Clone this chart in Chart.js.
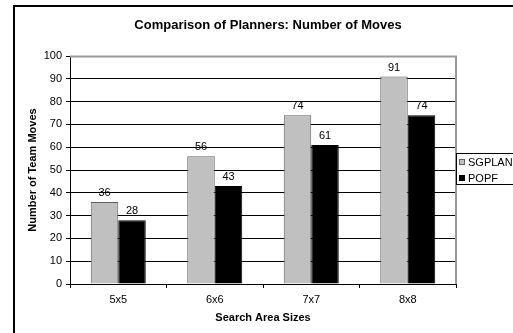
<!DOCTYPE html>
<html>
<head>
<meta charset="utf-8">
<script src="https://cdn.jsdelivr.net/npm/chart.js@4/dist/chart.umd.min.js"></script>
<style>
  html, body { margin: 0; padding: 0; background: #fff; }
  #chart { display: block; }
</style>
</head>
<body>
<canvas id="chart" width="513" height="333"></canvas>
<script>
// Chart data
var sizes = ["5x5", "6x6", "7x7", "8x8"];
var sgplanMoves = [36, 56, 74, 91];
var popfMoves = [28, 43, 61, 74];

var FONT = "'Liberation Sans', Arial, sans-serif";

// Draws the frame, titles, value labels and the boxed legend
var decorations = {
  id: "decorations",
  afterDraw: function (chart) {
    var ctx = chart.ctx;
    var area = chart.chartArea;
    ctx.save();

    // outer frame
    ctx.strokeStyle = "#000";
    ctx.lineWidth = 2;
    ctx.strokeRect(14, 6, 520, 340);

    // plot border top / right
    ctx.strokeStyle = "#9a9a9a";
    ctx.lineWidth = 2;
    ctx.beginPath();
    ctx.moveTo(area.left, area.top + 0.5);
    ctx.lineTo(area.right, area.top + 0.5);
    ctx.lineTo(area.right, area.bottom);
    ctx.stroke();

    // title
    ctx.fillStyle = "#000";
    ctx.textAlign = "center";
    ctx.textBaseline = "middle";
    ctx.font = "bold 13px " + FONT;
    ctx.fillText("Comparison of Planners: Number of Moves", 268, 25);

    // axis titles
    ctx.font = "bold 11px " + FONT;
    ctx.fillText("Search Area Sizes", (area.left + area.right) / 2, 318);
    ctx.save();
    ctx.translate(33, (area.top + area.bottom) / 2);
    ctx.rotate(-Math.PI / 2);
    ctx.fillText("Number of Team Moves", 0, 0);
    ctx.restore();

    // value labels above bars
    ctx.font = "11px " + FONT;
    ctx.textBaseline = "middle";
    chart.data.datasets.forEach(function (ds, di) {
      chart.getDatasetMeta(di).data.forEach(function (bar, i) {
        ctx.fillText(String(ds.data[i]), bar.x, bar.y - 9);
      });
    });

    // legend box
    ctx.fillStyle = "#fff";
    ctx.fillRect(area.right, 153, 80, 32);
    ctx.strokeStyle = "#000";
    ctx.lineWidth = 1;
    ctx.strokeRect(area.right + 0.5, 153.5, 80, 31);
    ctx.textAlign = "left";
    chart.data.datasets.forEach(function (ds, di) {
      var y = 162 + di * 16;
      ctx.fillStyle = ds.backgroundColor;
      ctx.fillRect(459, y - 3, 6, 6);
      ctx.strokeStyle = ds.borderColor;
      ctx.strokeRect(459.5, y - 2.5, 5, 5);
      ctx.fillStyle = "#000";
      ctx.fillText(ds.label, 468, y + 0.5);
    });

    ctx.restore();
  }
};

var ctx = document.getElementById("chart").getContext("2d");
var myChart = new Chart(ctx, {
  type: "bar",
  data: {
    labels: sizes,
    datasets: [
      {
        label: "SGPLAN",
        data: sgplanMoves,
        backgroundColor: "#c0c0c0",
        borderColor: "#606060",
        borderWidth: 1
      },
      {
        label: "POPF",
        data: popfMoves,
        backgroundColor: "#000000",
        borderColor: "#000000",
        borderWidth: 1
      }
    ]
  },
  options: {
    responsive: false,
    animation: false,
    devicePixelRatio: 1,
    categoryPercentage: 0.57,
    barPercentage: 1,
    layout: {
      padding: { left: 0, top: 56, right: 57, bottom: 0 }
    },
    plugins: {
      legend: { display: false },
      title: { display: false },
      tooltip: { enabled: false }
    },
    scales: {
      x: {
        offset: true,
        grid: {
          offset: true,
          drawOnChartArea: false,
          drawTicks: true,
          tickLength: 4,
          tickColor: "#000"
        },
        border: { color: "#000", width: 1 },
        ticks: {
          color: "#000",
          font: { family: FONT, size: 11 },
          padding: 5,
          maxRotation: 0
        },
        afterFit: function (scale) {
          scale.height = 49;
        }
      },
      y: {
        min: 0,
        max: 100,
        grid: {
          color: "#000",
          tickLength: 4,
          tickColor: "#000"
        },
        border: { color: "#000", width: 1 },
        ticks: {
          stepSize: 10,
          color: "#000",
          padding: 4,
          font: { family: FONT, size: 11 }
        },
        afterFit: function (scale) {
          scale.width = 70;
        }
      }
    }
  },
  plugins: [decorations]
});
</script>
</body>
</html>
